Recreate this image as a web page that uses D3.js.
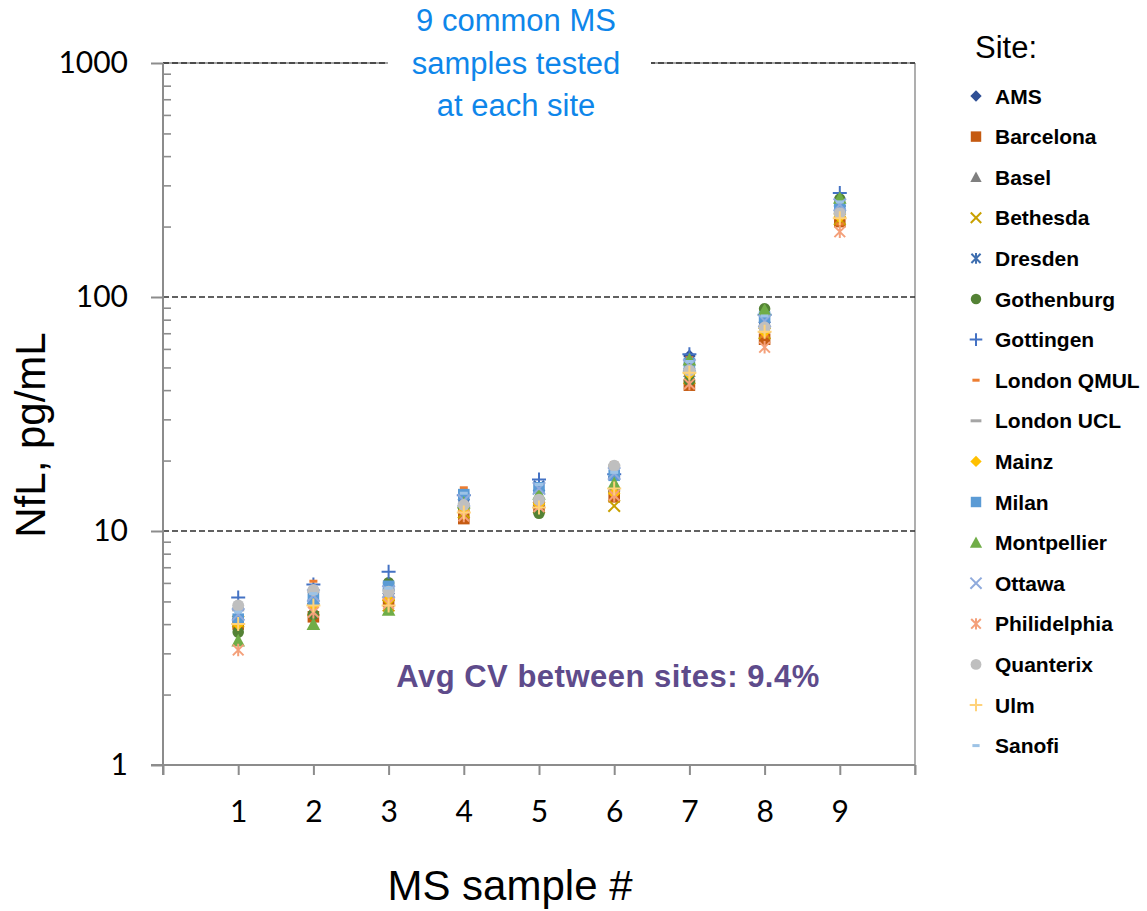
<!DOCTYPE html>
<html>
<head>
<meta charset="utf-8">
<script src="https://cdn.jsdelivr.net/npm/d3@7"></script>
<style>
  html, body { margin: 0; padding: 0; background: #fff; }
  svg { display: block; }
</style>
</head>
<body>
<svg id="chart" width="1147" height="911"></svg>
<script>
// MS sample numbers (x categories)
const samples = [1, 2, 3, 4, 5, 6, 7, 8, 9];

// Y axis labelled ticks (log scale)
const yTicks = [1, 10, 100, 1000];

// Site names, in legend order
const sites = ["AMS", "Barcelona", "Basel", "Bethesda", "Dresden", "Gothenburg", "Gottingen",
  "London QMUL", "London UCL", "Mainz", "Milan", "Montpellier", "Ottawa", "Philidelphia",
  "Quanterix", "Ulm", "Sanofi"];

// NfL (pg/mL) measured for samples 1..9 at each site
const ams         = [4.2, 4.9, 5.4, 13.6, 14.9, 17.0, 56, 78, 245];
const barcelona   = [4.0, 4.3, 5.0, 11.3, 12.8, 14.0, 42, 66, 210];
const basel       = [4.4, 5.3, 5.3, 12.6, 13.5, 15.6, 48, 74, 228];
const bethesda    = [4.1, 4.6, 4.8, 12.0, 12.6, 12.8, 45, 70, 215];
const dresden     = [4.5, 5.2, 5.6, 13.9, 15.6, 17.9, 50, 80, 250];
const gothenburg  = [3.7, 4.4, 6.0, 12.4, 11.9, 14.8, 44, 89, 262];
const gottingen   = [5.2, 5.9, 6.7, 14.2, 16.6, 17.5, 57, 84, 278];
const londonQmul  = [4.3, 6.1, 6.0, 15.3, 15.0, 19.6, 55, 68, 205];
const londonUcl   = [4.6, 5.5, 5.6, 13.0, 13.6, 19.0, 49, 75, 230];
const mainz       = [4.0, 4.8, 5.1, 12.2, 13.0, 14.5, 47, 71, 220];
const milan       = [4.2, 5.1, 5.8, 14.3, 15.3, 17.3, 52, 82, 242];
const montpellier = [3.4, 4.0, 4.6, 13.2, 14.4, 16.0, 54, 88, 265];
const ottawa      = [4.4, 5.3, 5.5, 13.5, 15.2, 17.6, 51, 79, 248];
const philidelphia= [3.1, 4.5, 4.9, 11.6, 12.7, 14.2, 42.5, 61, 190];
const quanterix   = [4.8, 5.6, 5.5, 12.9, 13.6, 19.0, 48.5, 74, 228];
const ulm         = [4.0, 4.8, 4.8, 12.0, 12.6, 15.2, 47.5, 71, 217];
const sanofi      = [4.5, 5.4, 5.7, 14.5, 15.8, 17.8, 53, 83, 255];

const siteValues = [ams, barcelona, basel, bethesda, dresden, gothenburg, gottingen,
  londonQmul, londonUcl, mainz, milan, montpellier, ottawa, philidelphia,
  quanterix, ulm, sanofi];

// Marker look per site
const markerStyles = [
  { shape: "diamond",  color: "#2F4F95", r: 6.3 },
  { shape: "square",   color: "#C55A11", r: 5.8 },
  { shape: "triangle", color: "#7F7F7F", r: 6.3 },
  { shape: "x",        color: "#C9A100", r: 5.8 },
  { shape: "asterisk", color: "#3F6FB0", r: 6 },
  { shape: "circle",   color: "#548235", r: 5.8 },
  { shape: "plus",     color: "#4472C4", r: 7 },
  { shape: "dash",     color: "#ED7D31", r: 4 },
  { shape: "dash",     color: "#A5A5A5", r: 6 },
  { shape: "diamond",  color: "#FFC000", r: 6.3 },
  { shape: "square",   color: "#5B9BD5", r: 5.8 },
  { shape: "triangle", color: "#70AD47", r: 6.8 },
  { shape: "x",        color: "#8FAADC", r: 6.2 },
  { shape: "asterisk", color: "#F4A07A", r: 6.3 },
  { shape: "circle",   color: "#BFBFBF", r: 6 },
  { shape: "plus",     color: "#FFD27A", r: 7 },
  { shape: "dash",     color: "#9DC3E6", r: 4 }
];

const svg = d3.select("#chart");

const plot = { left: 163, right: 915, top: 63, bottom: 765 };

const x = d3.scaleLinear().domain([0, 10]).range([plot.left, plot.right]);
const y = d3.scaleLog().domain([1, 1000]).range([plot.bottom, plot.top]);

const axisGrey = "#8C8C8C";

// Marker path centred on (0,0)
function markerPath(shape, r) {
  const p = d3.path();
  switch (shape) {
    case "diamond":
      p.moveTo(0, -r); p.lineTo(r, 0); p.lineTo(0, r); p.lineTo(-r, 0); p.closePath(); break;
    case "square":
      p.rect(-r, -r, 2 * r, 2 * r); break;
    case "triangle":
      p.moveTo(0, -r); p.lineTo(r, r * 0.85); p.lineTo(-r, r * 0.85); p.closePath(); break;
    case "circle":
      p.arc(0, 0, r, 0, 2 * Math.PI); break;
    case "x":
      p.moveTo(-r, -r); p.lineTo(r, r); p.moveTo(r, -r); p.lineTo(-r, r); break;
    case "asterisk":
      p.moveTo(-r * 0.85, -r * 0.85); p.lineTo(r * 0.85, r * 0.85);
      p.moveTo(r * 0.85, -r * 0.85); p.lineTo(-r * 0.85, r * 0.85);
      p.moveTo(0, -r); p.lineTo(0, r); break;
    case "plus":
      p.moveTo(-r, 0); p.lineTo(r, 0); p.moveTo(0, -r); p.lineTo(0, r); break;
    case "dash":
      p.rect(-r, -1.5, 2 * r, 3); break;
  }
  return p.toString();
}
const stroked = s => s === "x" || s === "asterisk" || s === "plus";

function drawMarker(g, style, scale = 1) {
  const s = stroked(style.shape);
  g.append("path")
    .attr("d", markerPath(style.shape, style.r * scale))
    .attr("fill", s ? "none" : style.color)
    .attr("stroke", s ? style.color : "none")
    .attr("stroke-width", s ? 2 : 0);
}

// Frame (top and right edges)
svg.append("line")
  .attr("x1", plot.left).attr("x2", plot.right)
  .attr("y1", y(1000)).attr("y2", y(1000))
  .attr("stroke", "#A6A6A6").attr("stroke-width", 2);
svg.append("line")
  .attr("x1", plot.right).attr("x2", plot.right)
  .attr("y1", y(1000)).attr("y2", plot.bottom + 10)
  .attr("stroke", "#A6A6A6").attr("stroke-width", 1.8);

// Dashed gridlines at decades
svg.append("g").selectAll("line")
  .data([10, 100, 1000])
  .join("line")
  .attr("x1", plot.left).attr("x2", plot.right)
  .attr("y1", d => y(d)).attr("y2", d => y(d))
  .attr("stroke", "#2E2E2E")
  .attr("stroke-width", 1.4)
  .attr("stroke-dasharray", "6,3");

// Minor log ticks on the inside of the y axis
const minorTicks = [];
[1, 10, 100].forEach(dec => { for (let k = 2; k <= 9; k++) minorTicks.push(dec * k); });
const yMinor = svg.append("g")
  .attr("transform", `translate(${plot.left},0)`)
  .call(d3.axisRight(y).tickValues(minorTicks).tickSize(8).tickFormat(""));
yMinor.select(".domain").remove();
yMinor.selectAll("line").attr("stroke", axisGrey).attr("stroke-width", 1.6);

// Y axis with major ticks and labels
const yAxis = svg.append("g")
  .attr("transform", `translate(${plot.left},0)`)
  .call(d3.axisLeft(y).tickValues(yTicks).tickSize(12).tickPadding(23).tickFormat(d3.format("d")));
yAxis.select(".domain")
  .attr("d", `M0,${plot.top}V${plot.bottom + 10}`)
  .attr("stroke", axisGrey).attr("stroke-width", 2);
yAxis.selectAll(".tick line").attr("stroke", axisGrey).attr("stroke-width", 2);
yAxis.selectAll(".tick text")
  .attr("fill", "#000")
  .style("font-family", "Lato, 'Open Sans', sans-serif")
  .style("font-size", "30px");

// X axis
const xAxis = svg.append("g")
  .attr("transform", `translate(0,${plot.bottom})`)
  .call(d3.axisBottom(x).tickValues(d3.range(0, 11)).tickSize(10).tickPadding(26)
    .tickFormat(d => samples.includes(d) ? d : ""));
xAxis.select(".domain")
  .attr("d", `M${plot.left - 12},0H${plot.right}`)
  .attr("stroke", axisGrey).attr("stroke-width", 2);
xAxis.selectAll(".tick line").attr("stroke", axisGrey).attr("stroke-width", 2);
xAxis.selectAll(".tick text")
  .attr("fill", "#000")
  .style("font-family", "Lato, 'Open Sans', sans-serif")
  .style("font-size", "30px");

// Data points, one group per site
const series = svg.append("g").attr("class", "series");
sites.forEach((site, i) => {
  const gs = series.append("g").attr("class", "site");
  siteValues[i].forEach((v, j) => {
    const g = gs.append("g").attr("transform", `translate(${x(samples[j])},${y(v)})`);
    drawMarker(g, markerStyles[i]);
  });
});

// Title box over the top frame line
const titleLines = ["9 common MS", "samples tested", "at each site"];
svg.append("rect")
  .attr("x", 388).attr("y", 0).attr("width", 263).attr("height", 128)
  .attr("fill", "#fff");
svg.append("g").selectAll("text")
  .data(titleLines)
  .join("text")
  .attr("x", 516)
  .attr("y", (d, i) => 31 + i * 42.5)
  .attr("text-anchor", "middle")
  .attr("fill", "#0E86EA")
  .style("font-family", "'Liberation Sans', Arial, sans-serif")
  .style("font-size", "31px")
  .text(d => d);

// CV annotation
svg.append("text")
  .attr("x", 608).attr("y", 687)
  .attr("text-anchor", "middle")
  .attr("fill", "#5E4B8B")
  .style("font-family", "'Liberation Sans', Arial, sans-serif")
  .style("font-size", "31px")
  .style("font-weight", "bold")
  .style("letter-spacing", "0.5px")
  .text("Avg CV between sites: 9.4%");

// Axis titles
svg.append("text")
  .attr("transform", "translate(45,435) rotate(-90)")
  .attr("text-anchor", "middle")
  .attr("fill", "#000")
  .style("font-family", "'Liberation Sans', Arial, sans-serif")
  .style("font-size", "42px")
  .text("NfL, pg/mL");

svg.append("text")
  .attr("x", 510).attr("y", 900)
  .attr("text-anchor", "middle")
  .attr("fill", "#000")
  .style("font-family", "'Liberation Sans', Arial, sans-serif")
  .style("font-size", "42px")
  .text("MS sample #");

// Legend
const legend = svg.append("g").attr("class", "legend");
legend.append("text")
  .attr("x", 975).attr("y", 58)
  .attr("fill", "#000")
  .style("font-family", "'Liberation Sans', Arial, sans-serif")
  .style("font-size", "31px")
  .text("Site:");
sites.forEach((site, i) => {
  const cy = 96 + i * 40.6;
  const g = legend.append("g").attr("transform", `translate(976,${cy})`);
  drawMarker(g, markerStyles[i], 0.9);
  legend.append("text")
    .attr("x", 995).attr("y", cy)
    .attr("dy", "0.36em")
    .attr("fill", "#000")
    .style("font-family", "'Liberation Sans', Arial, sans-serif")
    .style("font-size", "21px")
    .style("font-weight", "bold")
    .text(site);
});
</script>
</body>
</html>
